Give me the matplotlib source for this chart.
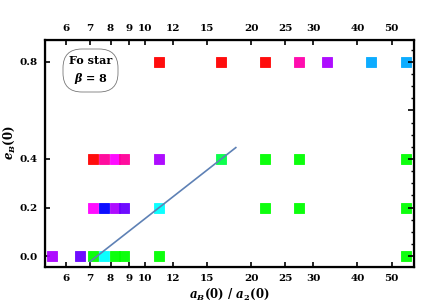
import numpy as np
import matplotlib
matplotlib.use("Agg")
from matplotlib import pyplot as plt
from matplotlib.patches import FancyBboxPatch
from matplotlib.transforms import IdentityTransform
from matplotlib.ticker import FixedLocator, NullFormatter, MultipleLocator

# points per eccentricity row: x = a_B(0)/a_2(0), colour of the outcome
x_e08 = [10.95, 16.4, 21.9, 27.4, 32.8, 43.8, 54.7]
c_e08 = ['#ff0000', '#ff0000', '#ff0000', '#ff00aa', '#aa00ff', '#00a8ff', '#00a8ff']

x_e04 = [7.13, 7.69, 8.23, 8.75, 10.95, 16.4, 21.9, 27.4, 54.7]
c_e04 = ['#ff0000', '#ff0099', '#ff00ff', '#ff0099', '#aa00ff', '#00ff44', '#00ff00', '#00ff00', '#00ff00']

x_e02 = [7.13, 7.69, 8.23, 8.75, 10.95, 21.9, 27.4, 54.7]
c_e02 = ['#ff00ff', '#0000ff', '#aa00ff', '#6600ff', '#00ffff', '#00ff00', '#00ff00', '#00ff00']

x_e00 = [5.48, 6.56, 7.13, 7.69, 8.23, 8.75, 10.95, 54.7]
c_e00 = ['#aa00ff', '#6600ff', '#00ff00', '#00ffff', '#00ff00', '#00ff00', '#00ff00', '#00ff00']

rows = [(0.8, x_e08, c_e08), (0.4, x_e04, c_e04), (0.2, x_e02, c_e02), (0.0, x_e00, c_e00)]

# stability boundary line
line_x = [7.0, 18.1]
line_y = [-0.023, 0.447]

xticks = [6, 7, 8, 9, 10, 12, 15, 20, 25, 30, 40, 50]
yticks = [0.0, 0.2, 0.4, 0.8]

plt.rcParams['font.family'] = ['DejaVu Serif']
plt.rcParams['font.weight'] = 'bold'
plt.rcParams['mathtext.fontset'] = 'dejavuserif'

fig = plt.figure(figsize=(4.36, 3.06), dpi=100)
ax = fig.add_axes([0.1032, 0.1275, 0.8463, 0.7415])

for e, xs, cs in rows:
    ax.scatter(xs, [e] * len(xs), c=cs, marker='s', s=52, edgecolors=cs,
               linewidths=0.6, alpha=0.95, zorder=3)

ax.plot(line_x, line_y, color='#5e81b5', lw=1.2, zorder=4)

ax.set_xscale('log')
ax.set_xlim(5.22, 57.8)
ax.set_ylim(-0.045, 0.89)

ax.xaxis.set_major_locator(FixedLocator(xticks))
ax.xaxis.set_minor_locator(FixedLocator([]))
ax.set_xticklabels([str(t) for t in xticks])
ax.xaxis.set_minor_formatter(NullFormatter())
ax.set_yticks(yticks)
ax.set_yticklabels(['0.0', '0.2', '0.4', '0.8'])

ax.tick_params(axis='both', which='both', direction='in', labelsize=7.5, width=1.2,
               length=3.5, pad=5)
ax.tick_params(axis='x', top=True, labeltop=True)

for sp in ax.spines.values():
    sp.set_linewidth(1.6)

# right axis minor ticks
ax2 = ax.twinx()
ax2.set_ylim(ax.get_ylim())
ax2.yaxis.set_major_locator(MultipleLocator(0.2))
ax2.yaxis.set_minor_locator(MultipleLocator(0.05))
ax2.tick_params(axis='y', which='major', direction='in', length=4.5, width=1.2, labelright=False)
ax2.tick_params(axis='y', which='minor', direction='in', length=2.5, width=1.0)

ax.set_xlabel(r'$\mathbfit{a}_{\mathbfit{B}}\mathbf{(0)\ /\ }\mathbfit{a}_{\mathbf{2}}\mathbf{(0)}$',
              fontsize=8.5, labelpad=3)
ax.set_ylabel(r'$\mathbfit{e}_{\mathbfit{B}}\mathbf{(0)}$', fontsize=8.5)
ax.yaxis.set_label_coords(-0.076, 0.55)

# legend-like label box (display pixels, origin bottom-left)
box = FancyBboxPatch((63, 306 - 92), 55, 43, boxstyle='round,pad=0,rounding_size=19',
                     transform=IdentityTransform(), fc='white', ec='#777777', lw=0.6,
                     zorder=5, clip_on=False)
ax2.add_artist(box)
ax2.text(90.5, 306 - 61, 'Fo star', transform=IdentityTransform(), ha='center',
         va='center', fontsize=8, fontweight='bold', zorder=6)
ax2.text(90.5, 306 - 79, r'$\mathbfit{\beta}$ = 8', transform=IdentityTransform(),
         ha='center', va='center', fontsize=8, fontweight='bold', zorder=6)

fig.savefig('out.png', dpi=100)
